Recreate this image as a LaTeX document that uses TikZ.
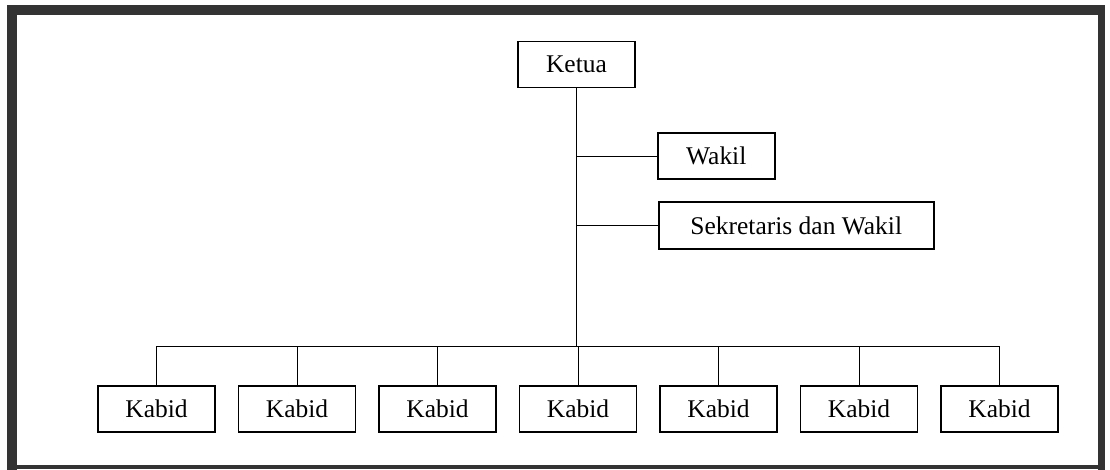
\documentclass[tikz,border=0pt]{standalone}
\usepackage{fontspec}
\setmainfont{Liberation Serif}
\begin{document}
\begin{tikzpicture}[
        x=0.02cm, y=-0.02cm,
        every node/.style={draw, line width=0.9pt, inner sep=0pt,
        font=\fontsize{14.5}{17}\selectfont},
        box/.style={minimum width=2.34cm, minimum height=0.92cm},
        wide/.style={minimum width=5.5cm, minimum height=0.94cm},
        link/.style={line width=0.5pt},
      ]
      \useasboundingbox (0,0) rectangle (1110,470);
      % frame of the scan
      \fill[black!80] (7,5) rectangle (1105,15);
      \fill[black!80] (7,5) rectangle (17,470);
      \fill[black!80] (1098,5) rectangle (1105,470);
      \fill[black!80] (7,465) rectangle (1105,469);

      \node[box] (ketua) at (576.5,64.5) {Ketua};
      \node[box, anchor=west] (wakil) at (657,156) {Wakil};
      \node[wide, anchor=west] (sekretaris) at (658,225.5) {Sekretaris dan Wakil};
      \foreach \i/\x in {1/156.5, 2/297, 3/437.5, 4/578, 5/718.5, 6/859, 7/999.5}
        \node[box] (kabid\i) at (\x,409) {Kabid};

      \coordinate (bus) at (576.5,346);
      \draw[link] (ketua.south) -- (ketua.south |- bus);
      \draw[link] (ketua.south |- wakil.west) -- (wakil.west);
      \draw[link] (ketua.south |- sekretaris.west) -- (sekretaris.west);
      \draw[link] (kabid1.north |- bus) -- (kabid7.north |- bus);
      \foreach \i in {1,...,7}
        \draw[link] (kabid\i.north) -- (kabid\i.north |- bus);
    \end{tikzpicture}
\end{document}
